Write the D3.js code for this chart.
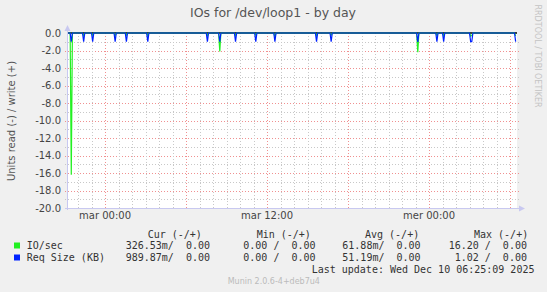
<!DOCTYPE html>
<html>
<head>
<meta charset="utf-8">
<script src="https://cdn.jsdelivr.net/npm/d3@7"></script>
<style>
  body { margin: 0; background: #f0f0f0; }
  svg { display: block; }
  text { font-family: "DejaVu Sans", sans-serif; }
  .mono { font-family: "DejaVu Sans Mono", monospace; font-size: 10px; fill: #333; white-space: pre; }
</style>
</head>
<body>
<svg id="chart"></svg>
<script>
// time window and samples (5 min resolution)
var START = "2025-12-08T21:11", END = "2025-12-10T06:31";
var STEP_MIN = 5;
var sampleTimes = ["2025-12-08T21:30", "2025-12-08T22:25", "2025-12-08T23:05", "2025-12-09T00:45",
    "2025-12-09T01:35", "2025-12-09T03:10", "2025-12-09T07:35", "2025-12-09T08:30",
    "2025-12-09T09:40", "2025-12-09T11:10", "2025-12-09T12:35", "2025-12-09T15:40",
    "2025-12-09T16:45", "2025-12-09T23:10", "2025-12-10T00:35", "2025-12-10T01:05",
    "2025-12-10T03:05", "2025-12-10T03:10", "2025-12-10T06:25"];
// read side of each series (drawn negative)
var ioRead  = [16.2, 0.3, 0.25, 0.3, 0.25, 0.3, 0.3, 2.1, 0.3, 0.25, 0.4, 0.3, 0.25, 2.2, 0.3, 0.3, 0.35, 0.3, 0.33];
var reqSize = [1.0, 1.0, 1.0, 1.0, 1.0, 1.0, 1.0, 1.0, 1.0, 1.0, 1.0, 0.98, 1.0, 1.02, 1.0, 1.0, 1.0, 1.0, 0.99];

var yTickValues = [0, -2, -4, -6, -8, -10, -12, -14, -16, -18, -20];
var yTickLabels = ["0.0", "-2.0", "-4.0", "-6.0", "-8.0", "-10.0", "-12.0", "-14.0", "-16.0", "-18.0", "-20.0"];
var xTickTimes = ["2025-12-09T00:00", "2025-12-09T12:00", "2025-12-10T00:00"];
var xTickLabels = ["mar 00:00", "mar 12:00", "mer 00:00"];

var legendNames = ["IO/sec", "Req Size (KB)"];
var legendColors = ["#22f022", "#0022ff"];
var legendCur = ["326.53m/  0.00", "989.87m/  0.00"];
var legendMin = ["0.00 /  0.00", "0.00 /  0.00"];
var legendAvg = ["61.88m/  0.00", "51.19m/  0.00"];
var legendMax = ["16.20 /  0.00", " 1.02 /  0.00"];

var W = 547, H = 292;
var LEFT = 67, RIGHT = 517, TOP = 33, BOTTOM = 208;
var AXIS_COLOR = "#c8c8f0";

var svg = d3.select("#chart").attr("width", W).attr("height", H);
svg.append("rect").attr("width", W).attr("height", H).style("fill", "#f0f0f0");

var parse = d3.timeParse("%Y-%m-%dT%H:%M");
var x = d3.scaleTime().domain([parse(START), parse(END)]).range([LEFT, RIGHT]);
var y = d3.scaleLinear().domain([-20, 0]).range([BOTTOM, TOP]);

//plot area
svg.append("rect")
    .attr("x", LEFT).attr("y", TOP)
    .attr("width", RIGHT - LEFT).attr("height", BOTTOM - TOP)
    .style("fill", "#ffffff");

//horizontal grid
var yMinor = d3.range(-19, 0, 2);
svg.selectAll(".hminor").data(yMinor).enter().append("line")
    .attr("x1", LEFT - 2).attr("x2", RIGHT + 2)
    .attr("y1", function (d) { return Math.round(y(d)) + 0.5; })
    .attr("y2", function (d) { return Math.round(y(d)) + 0.5; })
    .style("stroke", "#c8c8c8").style("stroke-dasharray", "1,2");
svg.selectAll(".hmajor").data(yTickValues.slice(1, -1)).enter().append("line")
    .attr("x1", LEFT - 2).attr("x2", RIGHT + 2)
    .attr("y1", function (d) { return Math.round(y(d)) + 0.5; })
    .attr("y2", function (d) { return Math.round(y(d)) + 0.5; })
    .style("stroke", "#f09090").style("stroke-dasharray", "1,2");

//vertical grid
var hours = x.ticks(d3.timeHour.every(1));
svg.selectAll(".vgrid").data(hours).enter().append("line")
    .attr("x1", function (d) { return Math.round(x(d)) + 0.5; })
    .attr("x2", function (d) { return Math.round(x(d)) + 0.5; })
    .attr("y1", TOP).attr("y2", BOTTOM + 2)
    .style("stroke", function (d) { return d.getHours() % 6 === 0 ? "#f09090" : "#c8c8c8"; })
    .style("stroke-dasharray", "1,2");

//build series: each reading with zero readings next to it
function buildSeries(vals) {
    var step = STEP_MIN * 60000;
    var map = new Map();
    sampleTimes.forEach(function (t, i) { map.set(+parse(t), -vals[i]); });
    var pts = [[+parse(START), 0]];
    sampleTimes.forEach(function (t, i) {
        var tt = +parse(t);
        if (!map.has(tt - step)) pts.push([tt - step, 0]);
        pts.push([tt, -vals[i]]);
        if (i < sampleTimes.length - 1 && !map.has(tt + step)) pts.push([tt + step, 0]);
    });
    pts.sort(function (a, b) { return a[0] - b[0]; });
    return pts;
}

var line = d3.line()
    .x(function (d) { return x(new Date(d[0])); })
    .y(function (d) { return y(d[1]); });

//zero rule
svg.append("line")
    .attr("x1", LEFT).attr("x2", RIGHT)
    .attr("y1", TOP).attr("y2", TOP)
    .style("stroke", "#000").style("stroke-width", 1.6);

[ioRead, reqSize].forEach(function (vals, i) {
    svg.append("path")
        .attr("d", line(buildSeries(vals)))
        .style("fill", "none")
        .style("stroke", legendColors[i])
        .style("stroke-width", 1.2);
});

//axes
svg.append("line").attr("x1", LEFT + 0.5).attr("x2", LEFT + 0.5)
    .attr("y1", BOTTOM + 2).attr("y2", TOP - 3)
    .style("stroke", AXIS_COLOR);
svg.append("path").attr("d", "M" + (LEFT - 2.5) + "," + (TOP - 2) + "L" + (LEFT + 0.5) + "," + (TOP - 8) + "L" + (LEFT + 3.5) + "," + (TOP - 2) + "Z")
    .style("fill", AXIS_COLOR);
svg.append("line").attr("x1", LEFT - 2).attr("x2", RIGHT + 3)
    .attr("y1", BOTTOM + 0.5).attr("y2", BOTTOM + 0.5)
    .style("stroke", AXIS_COLOR);
svg.append("path").attr("d", "M" + (RIGHT + 2) + "," + (BOTTOM - 2.5) + "L" + (RIGHT + 8) + "," + (BOTTOM + 0.5) + "L" + (RIGHT + 2) + "," + (BOTTOM + 3.5) + "Z")
    .style("fill", AXIS_COLOR);

//y labels
svg.selectAll(".ylab").data(yTickValues).enter().append("text")
    .attr("x", 61).attr("y", function (d) { return y(d); })
    .attr("dy", "0.35em")
    .style("text-anchor", "end").style("font-size", "10px").style("fill", "#444")
    .text(function (d, i) { return yTickLabels[i]; });

//x labels
svg.selectAll(".xlab").data(xTickTimes).enter().append("text")
    .attr("x", function (d) { return x(parse(d)); }).attr("y", 219)
    .style("text-anchor", "middle").style("font-size", "10px").style("fill", "#444")
    .text(function (d, i) { return xTickLabels[i]; });

//title
svg.append("text").attr("x", 273).attr("y", 17)
    .style("text-anchor", "middle").style("font-size", "12.5px").style("fill", "#555")
    .text("IOs for /dev/loop1 - by day");

//vertical label
svg.append("text")
    .attr("transform", "translate(15,121) rotate(-90)")
    .style("text-anchor", "middle").style("font-size", "10px").style("fill", "#555")
    .text("Units read (-) / write (+)");

svg.append("text")
    .attr("transform", "translate(534.5,56) rotate(90)")
    .style("text-anchor", "middle").style("font-size", "8px").style("fill", "#c4c4c4")
    .text("RRDTOOL / TOBI OETIKER");

//legend
var head = [["Cur (-/+)", 147.7], ["Min (-/+)", 256.7], ["Avg (-/+)", 365], ["Max (-/+)", 474]];
head.forEach(function (h) {
    svg.append("text").attr("class", "mono").attr("x", h[0] ? h[1] : 0).attr("y", 237.5).text(h[0]);
});
legendNames.forEach(function (name, i) {
    var by = 249 + i * 12;
    svg.append("rect").attr("x", 14).attr("y", by - 6.5).attr("width", 6).attr("height", 6)
        .style("fill", legendColors[i]);
    svg.append("text").attr("class", "mono").attr("x", 26.7).attr("y", by).text(name);
    svg.append("text").attr("class", "mono").attr("x", 125.7).attr("y", by).text(legendCur[i]);
    svg.append("text").attr("class", "mono").attr("x", 243.3).attr("y", by).text(legendMin[i]);
    svg.append("text").attr("class", "mono").attr("x", 342.3).attr("y", by).text(legendAvg[i]);
    svg.append("text").attr("class", "mono").attr("x", 448.7).attr("y", by).text(legendMax[i]);
});
svg.append("text").attr("class", "mono").attr("x", 311.7).attr("y", 273)
    .text("Last update: Wed Dec 10 06:25:09 2025");

svg.append("text").attr("x", 227.7).attr("y", 284)
    .style("font-size", "8px").style("fill", "#bbb")
    .text("Munin 2.0.6-4+deb7u4");
</script>
</body>
</html>
